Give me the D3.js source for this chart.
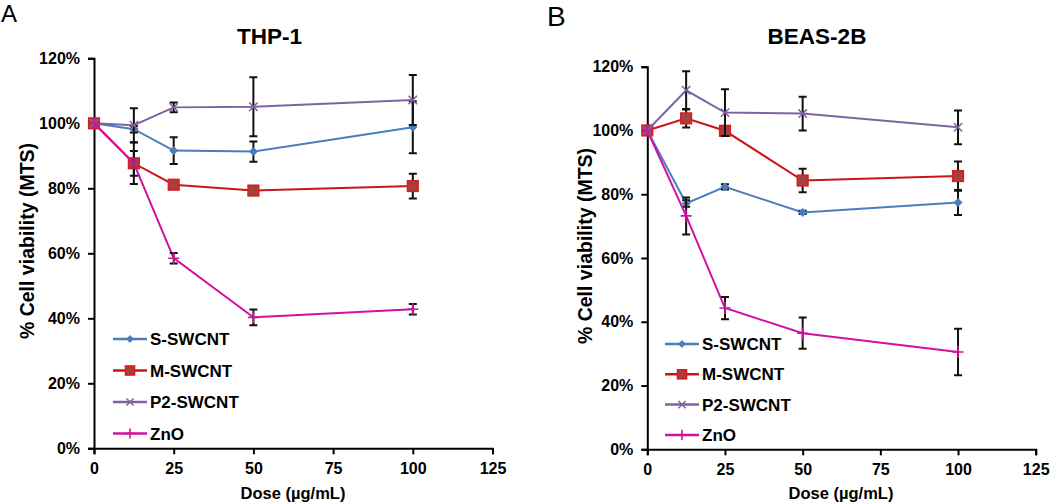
<!DOCTYPE html>
<html><head><meta charset="utf-8">
<script src="https://cdn.jsdelivr.net/npm/d3@7"></script>
<style>
body{margin:0;background:#fff;}
svg{display:block;font-family:"Liberation Sans",Arial,sans-serif;}
</style></head>
<body><svg id="chart" width="1050" height="503"></svg>
<script>
// ---------- data ----------
const doses = [0, 12.5, 25, 50, 100];
const xTicks = [0, 25, 50, 75, 100, 125];
const yTicks = [0, 20, 40, 60, 80, 100, 120];
const seriesNames = ["S-SWCNT", "M-SWCNT", "P2-SWCNT", "ZnO"];

// Panel A: THP-1
const thp1_S     = [100, 98.2, 91.6, 91.3, 98.8];
const thp1_S_err = [0, 1.0, 4.1, 3.1, 8.0];
const thp1_M     = [100, 87.7, 81.1, 79.3, 80.7];
const thp1_M_err = [0, 6.4, 1.0, 0.5, 3.8];
const thp1_P     = [100, 99.4, 104.9, 105.1, 107.2];
const thp1_P_err = [0, 5.2, 1.5, 9.1, 7.7];
const thp1_Z     = [100, 87.7, 58.5, 40.3, 42.8];
const thp1_Z_err = [0, 3.8, 1.6, 2.4, 1.6];

// Panel B: BEAS-2B
const beas_S     = [100, 77.1, 82.3, 74.3, 77.4];
const beas_S_err = [0, 1.0, 0.8, 0.5, 3.9];
const beas_M     = [100, 103.8, 99.9, 84.3, 85.7];
const beas_M_err = [0, 2.9, 1.5, 3.7, 4.6];
const beas_P     = [100, 112.6, 105.6, 105.3, 101.0];
const beas_P_err = [0, 6.0, 7.3, 5.3, 5.3];
const beas_Z     = [100, 73.2, 44.3, 36.4, 30.5];
const beas_Z_err = [0, 5.8, 3.5, 4.9, 7.3];

// ---------- styles ----------
const styles = [
  {name: seriesNames[0], color: "#4A7EBB", marker: "diamond"},
  {name: seriesNames[1], color: "#CC1414", marker: "square"},
  {name: seriesNames[2], color: "#7F63A0", marker: "x"},
  {name: seriesNames[3], color: "#D0139E", marker: "plus"}
];

const svg = d3.select("#chart");

function drawMarker(g, type, color, x, y, scale) {
  const s = scale || 1;
  if (type === "diamond") {
    const r = 4 * s;
    g.append("path").attr("d", `M${x},${y-r}L${x+r},${y}L${x},${y+r}L${x-r},${y}Z`)
      .attr("fill", color).attr("stroke", color).attr("stroke-width", 1);
  } else if (type === "square") {
    const h = 5.3 * s;
    g.append("rect").attr("x", x - h).attr("y", y - h).attr("width", 2*h).attr("height", 2*h)
      .attr("fill", "#A5403F").attr("stroke", "#D81E1E").attr("stroke-width", 1.6);
  } else if (type === "x") {
    const r = 4.2 * s;
    g.append("path").attr("d", `M${x-r},${y-r}L${x+r},${y+r}M${x-r},${y+r}L${x+r},${y-r}`)
      .attr("stroke", color).attr("stroke-width", 1.5).attr("fill", "none");
  } else if (type === "plus") {
    const rv = 6 * s, rh = 5.5 * s;
    g.append("path").attr("d", `M${x},${y-rv}L${x},${y+rv}M${x-rh},${y}L${x+rh},${y}`)
      .attr("stroke", color).attr("stroke-width", 1.6).attr("fill", "none");
  }
}

function panel(cfg) {
  const g = svg.append("g");
  const x = d3.scaleLinear().domain([0, 125]).range([cfg.x0, cfg.x1]);
  const y = d3.scaleLinear().domain([0, 120]).range([cfg.y0, cfg.y1]);

  // panel letter
  svg.append("text").attr("x", cfg.letterX).attr("y", cfg.letterY)
    .attr("font-size", cfg.letterSize).attr("fill", "#000").text(cfg.letter);
  // title
  svg.append("text").attr("x", cfg.titleX).attr("y", 43.5).attr("text-anchor", "middle")
    .attr("font-size", 22.5).attr("font-weight", "bold").text(cfg.title);

  // axes
  const yAxis = d3.axisLeft(y).tickValues(yTicks).tickFormat(d => d + "%").tickSizeOuter(0).tickSize(6).tickPadding(8);
  const xAxis = d3.axisBottom(x).tickValues(xTicks).tickSizeOuter(0).tickSize(6).tickPadding(6);
  const ga = g.append("g").attr("transform", `translate(${cfg.x0},0)`).call(yAxis);
  const gb = g.append("g").attr("transform", `translate(0,${cfg.y0})`).call(xAxis);
  [ga, gb].forEach(a => {
    a.select(".domain").attr("stroke", "#000").attr("stroke-width", 2);
    a.selectAll(".tick line").attr("stroke", "#000").attr("stroke-width", 2);
    a.selectAll(".tick text").attr("font-size", 16).attr("font-weight", "bold")
      .attr("font-family", "Liberation Sans, Arial, sans-serif").attr("fill", "#000");
  });
  gb.selectAll(".tick text").attr("dy", "0.85em");

  // axis labels
  g.append("text").attr("transform", `translate(${cfg.yLabelX},${cfg.yLabelY}) rotate(-90)`)
    .attr("text-anchor", "middle").attr("font-size", 19.5).attr("font-weight", "bold")
    .text("% Cell viability (MTS)");
  g.append("text").attr("x", cfg.xLabelX).attr("y", 499).attr("text-anchor", "middle")
    .attr("font-size", 16.5).attr("font-weight", "bold").text("Dose (µg/mL)");

  // series
  const line = d3.line().x(d => x(d.d)).y(d => y(d.v));
  cfg.series.forEach((s, i) => {
    const st = styles[i];
    const pts = doses.map((d, j) => ({d: d, v: s.vals[j], e: s.err[j]}));
    const sg = g.append("g");
    sg.append("path").datum(pts).attr("d", line).attr("fill", "none")
      .attr("stroke", st.color).attr("stroke-width", 2);
    pts.forEach(p => {
      if (p.e > 0) {
        const xx = x(p.d), yt = y(p.v + p.e), yb = y(p.v - p.e);
        sg.append("path").attr("d", `M${xx},${yt}L${xx},${yb}M${xx-4},${yt}L${xx+4},${yt}M${xx-4},${yb}L${xx+4},${yb}`)
          .attr("stroke", "#111").attr("stroke-width", 2).attr("fill", "none");
      }
    });
    pts.forEach(p => drawMarker(sg, st.marker, st.color, x(p.d), y(p.v), 1));
  });

  // legend
  const lg = g.append("g");
  styles.forEach((st, i) => {
    const ly = cfg.legY + i * cfg.legStep;
    lg.append("line").attr("x1", cfg.legX).attr("x2", cfg.legX + 34).attr("y1", ly).attr("y2", ly)
      .attr("stroke", st.color).attr("stroke-width", 2.5);
    drawMarker(lg, st.marker, st.color, cfg.legX + 17, ly, 0.85);
    lg.append("text").attr("x", cfg.legX + 37).attr("y", ly).attr("dy", "0.36em")
      .attr("font-size", 17).attr("font-weight", "bold").text(st.name);
  });
}

panel({
  letter: "A", letterX: 1, letterY: 22, letterSize: 24,
  title: "THP-1", titleX: 269.5,
  x0: 94, x1: 492.5, y0: 448.3, y1: 58.3,
  yLabelX: 34, yLabelY: 241, xLabelX: 293,
  legX: 113, legY: 339, legStep: 31.5,
  series: [
    {vals: thp1_S, err: thp1_S_err},
    {vals: thp1_M, err: thp1_M_err},
    {vals: thp1_P, err: thp1_P_err},
    {vals: thp1_Z, err: thp1_Z_err}
  ]
});

panel({
  letter: "B", letterX: 547, letterY: 26, letterSize: 28,
  title: "BEAS-2B", titleX: 817,
  x0: 647.3, x1: 1035.7, y0: 449.3, y1: 66.7,
  yLabelX: 592, yLabelY: 246, xLabelX: 841,
  legX: 665, legY: 344, legStep: 30.3,
  series: [
    {vals: beas_S, err: beas_S_err},
    {vals: beas_M, err: beas_M_err},
    {vals: beas_P, err: beas_P_err},
    {vals: beas_Z, err: beas_Z_err}
  ]
});
</script>
</body></html>
